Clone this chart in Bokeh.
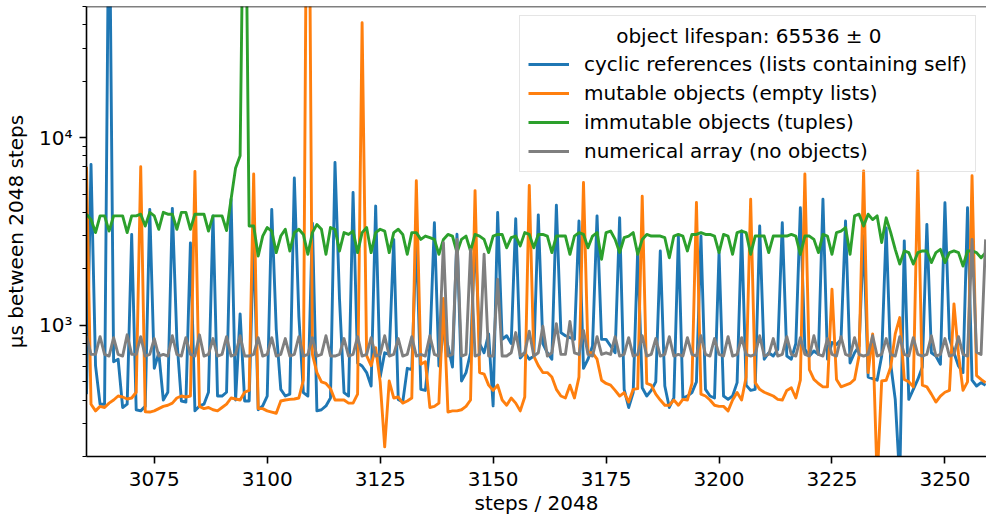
from bokeh.plotting import figure
from bokeh.models import Range1d, FixedTicker, Legend, LegendItem, Label, Span
from bokeh.embed import file_html
from bokeh.resources import INLINE

steps = list(range(3060, 3260))

cyclic = [
    430, 7200, 610, 380, 380, 300000, 640, 660, 365, 380,
    3050, 355, 350, 370, 4150, 590, 714, 400, 440, 4200,
    840, 395, 390, 2750, 350, 372, 380, 440, 3830, 420,
    420, 440, 4700, 400, 1150, 395, 395, 3000, 355, 372,
    420, 4150, 950, 456, 420, 430, 6100, 1120, 438, 420,
    3500, 350, 355, 372, 410, 7370, 1380, 438, 420, 5100,
    630, 607, 560, 475, 4320, 530, 714, 700, 2870, 403,
    390, 590, 580, 3000, 456, 450, 776, 3520, 607, 915,
    776, 600, 3060, 505, 560, 714, 3000, 800, 714, 900,
    372, 3990, 842, 880, 800, 3700, 670, 714, 660, 686,
    3880, 800, 714, 660, 4360, 915, 880, 860, 842, 3600,
    590, 660, 776, 3830, 842, 842, 776, 714, 3740, 456,
    365, 438, 2540, 465, 420, 450, 500, 2490, 475, 365,
    410, 2990, 410, 420, 438, 500, 2990, 456, 420, 410,
    2440, 420, 403, 420, 495, 3180, 480, 450, 456, 3380,
    660, 714, 686, 745, 3520, 686, 660, 800, 4230, 745,
    686, 730, 700, 4700, 660, 810, 790, 840, 3600, 630,
    714, 776, 3000, 530, 520, 510, 686, 3300, 620, 403,
    150, 2820, 403, 456, 515, 600, 3450, 714, 686, 620,
    4500, 850, 714, 607, 560, 4230, 510, 475, 495, 480,
]

mutable = [
    7000, 380, 350, 370, 365, 385, 400, 420, 415, 405,
    410, 440, 7000, 346, 345, 350, 360, 370, 375, 385,
    410, 420, 415, 420, 6600, 370, 360, 365, 355, 350,
    365, 380, 410, 405, 400, 440, 450, 6400, 360, 360,
    350, 345, 340, 395, 400, 403, 405, 410, 510, 3000000,
    700, 560, 500, 490, 460, 400, 400, 400, 385, 385,
    430, 41000, 690, 610, 760, 500, 225, 505, 410, 415,
    385, 395, 410, 5900, 620, 640, 365, 370, 385, 1390,
    345, 350, 350, 355, 370, 400, 5220, 560, 550, 480,
    450, 480, 400, 375, 410, 385, 350, 415, 5560, 686,
    610, 560, 560, 530, 456, 420, 410, 480, 410, 530,
    5770, 714, 714, 660, 510, 490, 480, 450, 420, 438,
    390, 456, 460, 4870, 490, 480, 430, 400, 375, 375,
    400, 375, 403, 400, 490, 4510, 430, 420, 400, 375,
    370, 370, 350, 400, 438, 400, 530, 4700, 495, 456,
    440, 430, 420, 403, 400, 450, 465, 410, 510, 6400,
    580, 515, 490, 470, 470, 1560, 515, 470, 480, 490,
    515, 690, 6640, 560, 900, 150, 505, 510, 600, 900,
    1100, 515, 500, 470, 6640, 480, 470, 430, 390, 420,
    440, 450, 1300, 700, 450, 500, 6270, 540, 515, 495,
]

immutable = [
    3910, 3660, 3120, 3830, 3830, 3180, 3830, 3830, 3830, 3120,
    3830, 3830, 3910, 3380, 4000, 3830, 3250, 4000, 3910, 3910,
    3250, 4000, 4000, 3250, 3910, 3910, 3910, 3180, 3830, 3830,
    3830, 3200, 4700, 6900, 8000, 800000, 3380, 3380, 2340, 2990,
    3320, 3180, 2440, 2990, 3250, 2490, 3120, 3250, 3050, 2390,
    3120, 3450, 3250, 2390, 3320, 3250, 2490, 3120, 3050, 3180,
    2440, 3120, 3320, 2440, 3120, 3250, 3180, 2440, 3120, 3250,
    3050, 2390, 3120, 3120, 2870, 2990, 2930, 2870, 2390, 2870,
    3050, 2990, 2440, 2870, 2990, 2490, 3050, 2990, 2870, 2440,
    2990, 3050, 3050, 2590, 2930, 2990, 2650, 3120, 3050, 2590,
    3050, 3050, 2990, 2440, 2990, 2990, 2990, 2390, 2990, 3120,
    3050, 2590, 2990, 3120, 2250, 3120, 3180, 2870, 2440, 2930,
    2990, 3120, 2390, 2870, 3050, 2990, 2990, 2990, 2930, 2290,
    2990, 3050, 2990, 2490, 3050, 3050, 3120, 3050, 3050, 2990,
    2440, 3050, 2990, 2390, 3120, 3180, 3120, 2390, 2990, 2990,
    2990, 2440, 2990, 2990, 2990, 2990, 3050, 2990, 2390, 2990,
    2990, 2870, 2440, 3050, 2990, 2390, 3120, 3180, 3320, 2390,
    3830, 3910, 3380, 3910, 3660, 3830, 2760, 3740, 3120, 2540,
    2120, 2490, 2440, 2120, 2440, 2490, 2490, 2160, 2440, 2540,
    2160, 2440, 2490, 2440, 2070, 2490, 2490, 2440, 2290, 2440,
]

numerical = [
    877, 700, 700, 870, 700, 686, 860, 700, 686, 890,
    700, 700, 870, 686, 700, 850, 686, 700, 686, 880,
    700, 686, 860, 700, 686, 890, 686, 700, 850, 686,
    700, 870, 686, 700, 880, 686, 686, 700, 860, 686,
    700, 860, 686, 700, 850, 686, 700, 870, 686, 700,
    860, 686, 700, 880, 686, 686, 700, 850, 686, 700,
    870, 686, 700, 860, 686, 700, 880, 686, 700, 850,
    686, 700, 870, 686, 700, 686, 880, 700, 686, 2760,
    686, 700, 2870, 686, 700, 2540, 686, 700, 2390, 686,
    686, 1760, 686, 686, 714, 915, 686, 714, 930, 686,
    714, 990, 686, 714, 1020, 700, 700, 1050, 714, 700,
    940, 700, 686, 870, 700, 714, 700, 870, 686, 700,
    860, 686, 700, 880, 686, 700, 850, 686, 700, 870,
    686, 700, 686, 860, 700, 686, 880, 700, 686, 850,
    700, 686, 870, 686, 700, 860, 700, 686, 700, 880,
    686, 700, 850, 686, 700, 870, 700, 686, 860, 700,
    686, 880, 700, 686, 850, 700, 686, 870, 700, 686,
    860, 700, 686, 700, 880, 686, 700, 850, 700, 686,
    870, 700, 686, 860, 700, 686, 700, 880, 686, 700,
    850, 686, 700, 870, 700, 686, 2870, 720, 700, 2870,
]

series_labels = [
    "cyclic references (lists containing self)",
    "mutable objects (empty lists)",
    "immutable objects (tuples)",
    "numerical array (no objects)",
]
legend_title = "object lifespan: 65536 \u00b1 0"
x_ticks = [3075, 3100, 3125, 3150, 3175, 3200, 3225, 3250]
y_ticks = [1000, 10000]
y_minor = [200, 300, 400, 500, 600, 700, 800, 900,
           2000, 3000, 4000, 5000, 6000, 7000, 8000, 9000,
           20000, 30000, 40000, 50000]
y_tick_labels = {1000: "10\u00b3", 10000: "10\u2074"}
colors = ["#1f77b4", "#ff7f0e", "#2ca02c", "#7f7f7f"]

for s in (cyclic, mutable, immutable, numerical):
    assert len(s) == len(steps), len(s)

FONT = "DejaVu Sans"

p = figure(width=986, height=518, y_axis_type="log",
           x_range=Range1d(3060, 3259.2), y_range=Range1d(200, 50000),
           output_backend="svg", toolbar_location=None,
           min_border_left=86, min_border_right=0, min_border_top=6,
           min_border_bottom=62)
p.outline_line_color = None
p.xgrid.visible = False
p.ygrid.visible = False
p.background_fill_color = "white"
p.border_fill_color = "white"

renderers = []
for s, c in zip((cyclic, mutable, immutable, numerical), colors):
    r = p.line(steps, s, line_color=c, line_width=2.9, line_join="round")
    renderers.append(r)

# top spine
p.add_layout(Span(location=50000, dimension="width", line_color="black", line_width=1.6))

p.xaxis.ticker = FixedTicker(ticks=x_ticks)
p.yaxis.ticker = FixedTicker(ticks=y_ticks, minor_ticks=y_minor)
p.yaxis.major_label_overrides = y_tick_labels
p.xaxis.axis_label = "steps / 2048"
p.yaxis.axis_label = "\u03bcs between 2048 steps"

for ax in (p.xaxis[0], p.yaxis[0]):
    ax.axis_line_color = "black"
    ax.axis_line_width = 1.6
    ax.major_tick_line_color = "black"
    ax.major_tick_line_width = 1.6
    ax.major_tick_out = 7
    ax.major_tick_in = 0
    ax.minor_tick_line_color = "black"
    ax.minor_tick_line_width = 1.2
    ax.minor_tick_out = 4
    ax.minor_tick_in = 0
    ax.major_label_text_font = FONT
    ax.major_label_text_font_size = "20px"
    ax.major_label_text_color = "black"
    ax.axis_label_text_font = FONT
    ax.axis_label_text_font_size = "20px"
    ax.axis_label_text_font_style = "normal"
    ax.axis_label_text_color = "black"

p.xaxis.minor_tick_line_color = None
p.xaxis.major_label_standoff = 8
p.xaxis.axis_label_standoff = 2
p.yaxis.major_label_standoff = 7
p.yaxis.axis_label_standoff = 8

legend = Legend(
    items=[LegendItem(label=lab, renderers=[r]) for lab, r in zip(series_labels, renderers)],
    location=(433, 284),
    title="\u00a0",
    title_text_font=FONT, title_text_font_size="20px", title_standoff=4,
    label_text_font=FONT, label_text_font_size="20px", label_text_color="black",
    label_text_baseline="middle",
    glyph_width=41, glyph_height=24, label_height=24, label_standoff=15,
    spacing=5, padding=8, margin=0,
    border_line_color="#cccccc", border_line_width=1.2,
    background_fill_color="white", background_fill_alpha=0.0,
)
p.add_layout(legend)

p.add_layout(Label(x=3206.6, y=35000, text=legend_title, text_align="center",
                   text_baseline="middle", text_font=FONT, text_font_size="20px",
                   text_color="black", level="overlay"))

open("out.html", "w").write(file_html(p, INLINE))
